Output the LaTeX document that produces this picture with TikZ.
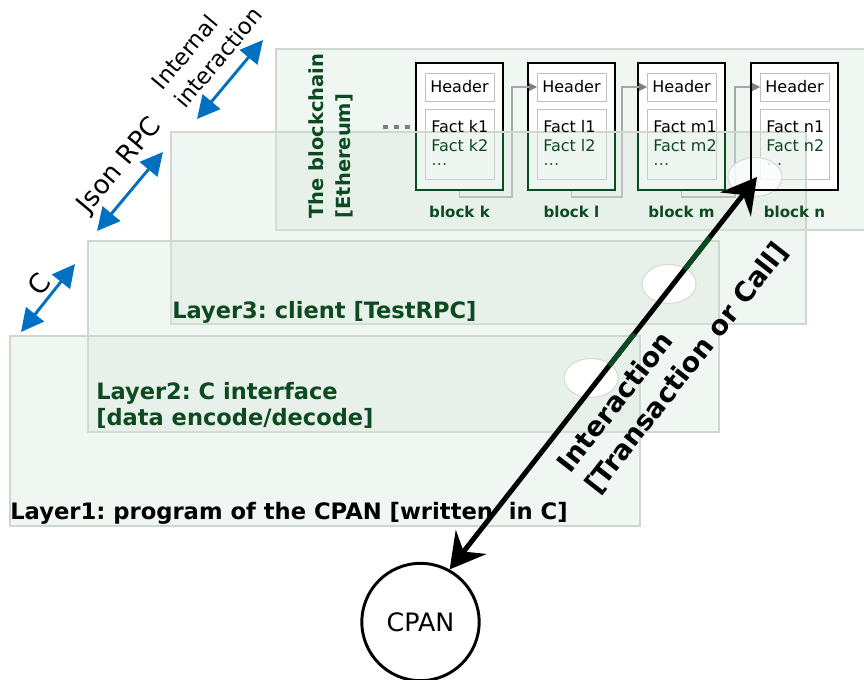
\documentclass[tikz,border=0pt]{standalone}
\usepackage{fontspec}
\setmainfont{DejaVu Sans}
\usetikzlibrary{arrows.meta,calc,shapes.geometric}
\definecolor{dgreen}{HTML}{0C4A21}
\definecolor{blueC}{HTML}{0070C0}
\definecolor{layerfill}{HTML}{D9E8DC}
\definecolor{layerline}{HTML}{D0D6D0}
\definecolor{boxline}{HTML}{BFBFBF}
\definecolor{linkgray}{HTML}{A6A6A6}
\definecolor{tipgray}{HTML}{7F7F7F}
\definecolor{holeline}{HTML}{D9D9D9}
\definecolor{dotgray}{HTML}{3F4F44}
\begin{document}
\frenchspacing
\begin{tikzpicture}[x=0.75pt,y=-0.75pt,
  layer/.style={draw=layerline,line width=1pt,fill=layerfill,fill opacity=0.4},
  blockbox/.style={draw=black,line width=2pt,fill=white,minimum width=65.25pt,minimum height=95.25pt,anchor=north west,outer sep=0pt,inner sep=0pt},
  hbox/.style={draw=boxline,line width=0.75pt,fill=white,minimum width=51.75pt,minimum height=21pt,anchor=north west,inner sep=0pt,outer sep=0pt,font=\fontsize{12}{14}\selectfont},
  fbox/.style={draw=boxline,line width=0.75pt,fill=white,minimum width=51.75pt,minimum height=52.5pt,anchor=north west,inner sep=0pt,outer sep=0pt},
  facttxt/.style={anchor=west,inner sep=0pt,font=\fontsize{12}{14}\selectfont},
  blabel/.style={font=\bfseries\fontsize{11.3}{13}\selectfont,text=dgreen,inner sep=0pt},
  link/.style={draw=linkgray,line width=0.8pt,-{Triangle[length=6pt,width=6pt,color=tipgray]}},
  chaindots/.style={draw=tipgray,line width=3pt,dash pattern=on 3.75pt off 4.5pt},
  hole/.style={ellipse,draw=holeline,line width=0.8pt,fill=white,minimum width=40.5pt,minimum height=29.25pt,inner sep=0pt},
  cpannode/.style={circle,draw=black,line width=2.2pt,fill=white,minimum size=88pt,inner sep=0pt,font=\fontsize{19}{22}\selectfont},
  interact/.style={draw=black,line width=3.75pt,{Stealth[length=26pt,width=29pt,inset=9pt]}-{Stealth[length=26pt,width=29pt,inset=9pt]}},
  greenseg/.style={draw=dgreen,line width=3.75pt},
  bluearrow/.style={draw=blueC,line width=2.2pt,{Triangle[length=17pt,width=17pt]}-{Triangle[length=17pt,width=17pt]}},
  bluelab/.style={font=\fontsize{17}{21.75}\selectfont,rotate=50,align=left,inner sep=0pt},
  laylab/.style={font=\bfseries\fontsize{16.9}{19.5}\selectfont,anchor=west,inner sep=0pt,align=left},
]
\useasboundingbox (0,0) rectangle (864,679);

% blockchain area
\draw[layer] (276,49) rectangle (870,230);

% blocks (boxes)
\foreach \bn/\x in {k/416,l/528,m/638,n/751}{
  \node[blockbox] (blk-\bn) at (\x,63) {};
  \node[hbox] (hd-\bn) at (\x+9,73) {Header};
  \node[fbox] (fc-\bn) at (\x+9,109) {};
}
\foreach \p/\q in {k/l,l/m,m/n}{
  \draw[link] (fc-\p.south |- blk-\p.south) -- ++(0,7) -| ($(hd-\q.west)+(-25,0)$) -- (hd-\q.west);
}
\draw[chaindots] (382.5,127) -- (410,127);

% layer 3
\draw[layer] (171,132) rectangle (806,324);
\begin{scope}
  \clip (276,133) rectangle (806,232);
  \foreach \bn in {k,l,m}{
    \draw[dgreen,line width=2pt] (blk-\bn.north west) rectangle (blk-\bn.south east);
  }
\end{scope}

% block texts
\foreach \bn/\x in {k/416,l/528,m/638,n/751}{
  \node[facttxt] (fa-\bn) at (\x+15,127) {Fact \bn1};
  \node[facttxt,text=dgreen] (fb-\bn) at (\x+15,146) {Fact \bn2};
  \node[facttxt,text=dotgray] (fd-\bn) at (\x+15,165) {…};
  \node[blabel] (bl-\bn) at (\x+43.5,212) {block \bn};
}
\node[font=\bfseries\fontsize{14.6}{20.25}\selectfont,text=dgreen,rotate=90,align=left,inner sep=0pt] (bclab) at (330.5,136) {The blockchain\\{[}Ethereum]};

% layer 2 and 1
\draw[layer] (88,241) rectangle (719,432);
\draw[layer] (10,336) rectangle (640,526);

\node[laylab,text=dgreen] (lab3) at (172,312) {Layer3: client [TestRPC]};
\node[laylab,text=dgreen] (lab2) at (96,405) {Layer2: C interface\\{[}data encode/decode]};
\node[laylab,font=\bfseries\fontsize{17}{19.5}\selectfont] (lab1) at (10,513) {Layer1: program of the CPAN [written\ \ in C]};

% holes
\node[hole] (h1) at (591,378) {};
\node[hole] (h2) at (669,284) {};
\node[hole,fill opacity=0.8] (h3) at (755,177) {};
\draw[line width=2pt] (blk-n.north west) rectangle (blk-n.south east);

% CPAN and interaction
\node[cpannode] (cpan) at (420.5,622) {CPAN};
\coordinate (ntip) at (757,177);
\draw[interact] (cpan.61) -- (ntip);
\draw[greenseg] ($(cpan.61)!0.7647!(ntip)$) -- ($(cpan.61)!0.8465!(ntip)$);
\draw[greenseg] ($(cpan.61)!0.519!(ntip)$) -- ($(cpan.61)!0.601!(ntip)$);
\node[font=\bfseries\fontsize{20.3}{26.25}\selectfont,rotate=52,align=left,inner sep=0pt] (ilab) at (673,358) {Interaction\\{[}Transaction or Call]};

% blue arrows
\coordinate (cA) at (21,332); \coordinate (cB) at (75,264);
\coordinate (jA) at (97,231); \coordinate (jB) at (163,152);
\coordinate (iA) at (197,119); \coordinate (iB) at (263,40);
\draw[bluearrow] (cA) -- (cB);
\draw[bluearrow] (jA) -- (jB);
\draw[bluearrow] (iA) -- (iB);
\node[bluelab,font=\fontsize{20}{24}\selectfont] (clab) at (39,284) {C};
\node[bluelab,font=\fontsize{19.5}{24}\selectfont] (jlab) at (120,166) {Json RPC};
\node[bluelab] (ilab2) at (207,48) {Internal\\interaction};
\end{tikzpicture}
\end{document}
